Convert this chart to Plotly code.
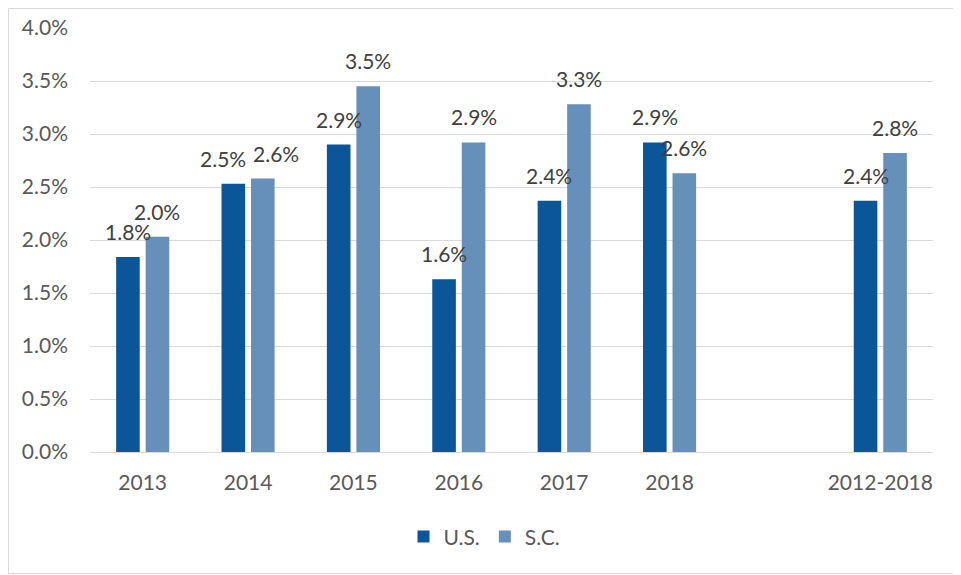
import plotly.graph_objects as go

categories = ["2013", "2014", "2015", "2016", "2017", "2018", "2012-2018"]
axis_order = ["2013", "2014", "2015", "2016", "2017", "2018", " ", "2012-2018"]
us_values = [0.0184, 0.0253, 0.0290, 0.0163, 0.0237, 0.0292, 0.0237]
sc_values = [0.0203, 0.0258, 0.0345, 0.0292, 0.0328, 0.0263, 0.0282]
y_ticks = [0.0, 0.005, 0.01, 0.015, 0.02, 0.025, 0.03, 0.035, 0.04]
# manual horizontal nudges of data labels (px), as in the source chart
us_label_nudge = [0, -10, 0, 0, 0, 0, 0]
sc_label_nudge = [0, 13, 0, 0, 0, 0, 0]

US_COLOR = "#0B5599"
SC_COLOR = "#6690B9"
TEXT_COLOR = "#595959"
LABEL_COLOR = "#404040"
FONT = "Lato"
FS = 21

W, H = 953, 567
ML, MR, MT, MB = 82, 28, 20, 123

fig = go.Figure()
fig.add_trace(go.Bar(name="U.S.", x=categories, y=us_values, marker_color=US_COLOR,
                     marker_line_width=0))
fig.add_trace(go.Bar(name="S.C.", x=categories, y=sc_values, marker_color=SC_COLOR,
                     marker_line_width=0))

# data labels
plot_w = W - ML - MR
plot_h = H - MT - MB
cat_w = plot_w / len(axis_order)
bargap = 0.44
slot = cat_w * (1 - bargap) / 2
for vals, nudges, sign in ((us_values, us_label_nudge, -1), (sc_values, sc_label_nudge, 1)):
    for c, v, n in zip(categories, vals, nudges):
        fig.add_annotation(x=axis_order.index(c), y=v, xref="x", yref="y",
                           text=f"{v*100:.1f}%",
                           showarrow=False, yanchor="bottom", yshift=11,
                           xshift=sign * slot / 2 + n,
                           font=dict(family=FONT, size=FS, color=LABEL_COLOR))

fig.update_layout(
    width=W, height=H, autosize=False,
    margin=dict(l=ML, r=MR, t=MT, b=MB, autoexpand=False),
    paper_bgcolor="white", plot_bgcolor="white",
    barmode="group", bargap=bargap, bargroupgap=0.2,
    font=dict(family=FONT, size=FS, color=TEXT_COLOR),
    showlegend=True,
    legend=dict(orientation="h", x=(W / 2 - ML) / plot_w, xanchor="center",
                y=-0.2, yanchor="middle",
                font=dict(family=FONT, size=FS, color=TEXT_COLOR), itemwidth=30),
    xaxis=dict(type="category", categoryorder="array", categoryarray=axis_order,
               range=[-0.5, len(axis_order) - 0.5], tickangle=0,
               showgrid=False, showline=True, linecolor="#D9D9D9", linewidth=1,
               ticks="", ticklabelstandoff=12,
               tickfont=dict(family=FONT, size=FS, color=TEXT_COLOR)),
    yaxis=dict(range=[0, 0.04], tickvals=y_ticks, tickformat=".1%",
               showgrid=True, gridcolor="#D9D9D9", gridwidth=1,
               zeroline=False, showline=False, ticks="", ticklabelstandoff=21,
               tickfont=dict(family=FONT, size=FS, color=TEXT_COLOR)),
    shapes=[dict(type="rect", xref="paper", yref="paper",
                 x0=(0.5 - ML) / plot_w, x1=(W + 10 - ML) / plot_w,
                 y0=-(MB - 1.5) / plot_h, y1=1 + (MT - 0.5) / plot_h,
                 line=dict(color="#D9D9D9", width=1), fillcolor="rgba(0,0,0,0)")],
)

fig.write_html("out.html")
